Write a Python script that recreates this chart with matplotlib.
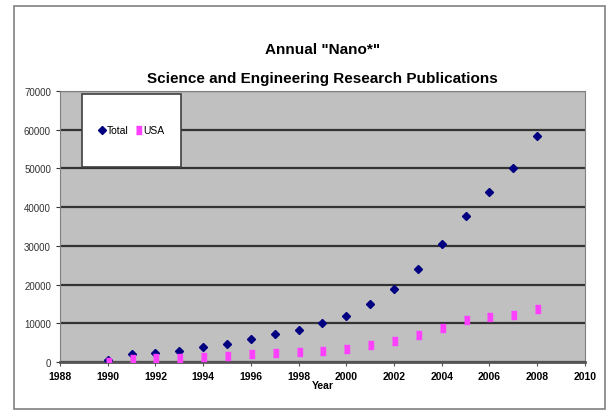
import matplotlib.pyplot as plt
from matplotlib.patches import Rectangle

years = list(range(1990, 2009))
total = [500, 2000, 2300, 2900, 3800, 4600, 5900, 7200, 8400, 10200, 12000,
         15000, 18900, 23900, 30500, 37600, 43800, 50000, 58300]
usa = [100, 800, 1000, 1000, 1400, 1600, 2000, 2300, 2500, 2900, 3500,
       4500, 5500, 7000, 8700, 10900, 11700, 12200, 13700]

xticks = list(range(1988, 2011, 2))
yticks = list(range(0, 70001, 10000))

plt.rcParams['font.family'] = ['Liberation Sans', 'DejaVu Sans']

fig = plt.figure(figsize=(6.08, 4.14), dpi=100)
fig.patches.append(Rectangle((0.023, 0.01), 0.972, 0.972, transform=fig.transFigure,
                             fill=False, edgecolor='#808080', linewidth=1.2))

ax = fig.add_axes([0.0987, 0.123, 0.8633, 0.655])
ax.set_facecolor('#C0C0C0')

rect_marker = [(-0.6, -1), (0.6, -1), (0.6, 1), (-0.6, 1)]
ax.plot(years, total, linestyle='none', marker='D', markersize=4,
        color='#000080', label='Total', zorder=3)
ax.plot(years, usa, linestyle='none', marker=rect_marker, markersize=6,
        color='#FF40FF', label='USA', zorder=4)

ax.set_xlim(1988, 2010)
ax.set_ylim(0, 70000)
ax.set_xticks(xticks)
ax.set_yticks(yticks)
ax.yaxis.grid(True, color='#333333', linewidth=1.6)
ax.set_axisbelow(True)

for s in ['top', 'right', 'left']:
    ax.spines[s].set_color('#808080')
ax.spines['bottom'].set_color('#555555')
ax.spines['bottom'].set_linewidth(2)

ax.tick_params(axis='y', labelsize=7, colors='#333333', length=3)
ax.tick_params(axis='x', labelsize=7.5, length=3, color='#555555')
for lab in ax.get_xticklabels():
    lab.set_fontweight('bold')
ax.set_xlabel('Year', fontsize=7.5, fontweight='bold', labelpad=-1)

fig.text(0.53, 0.88, 'Annual "Nano*"', ha='center', va='center',
         fontsize=11, fontweight='bold')
fig.text(0.53, 0.81, 'Science and Engineering Research Publications',
         ha='center', va='center', fontsize=11, fontweight='bold')

# legend box
ax.add_patch(Rectangle((0.042, 0.72), 0.189, 0.27, transform=ax.transAxes,
                       facecolor='white', edgecolor='#404040', linewidth=1.2, zorder=5))
leg = ax.legend(ncol=2, frameon=False, loc='center',
                bbox_to_anchor=(0.1365, 0.855), fontsize=7.5,
                handlelength=0.6, handletextpad=0.2, columnspacing=0.6)
leg.set_zorder(6)

fig.savefig('out.png', dpi=100)
